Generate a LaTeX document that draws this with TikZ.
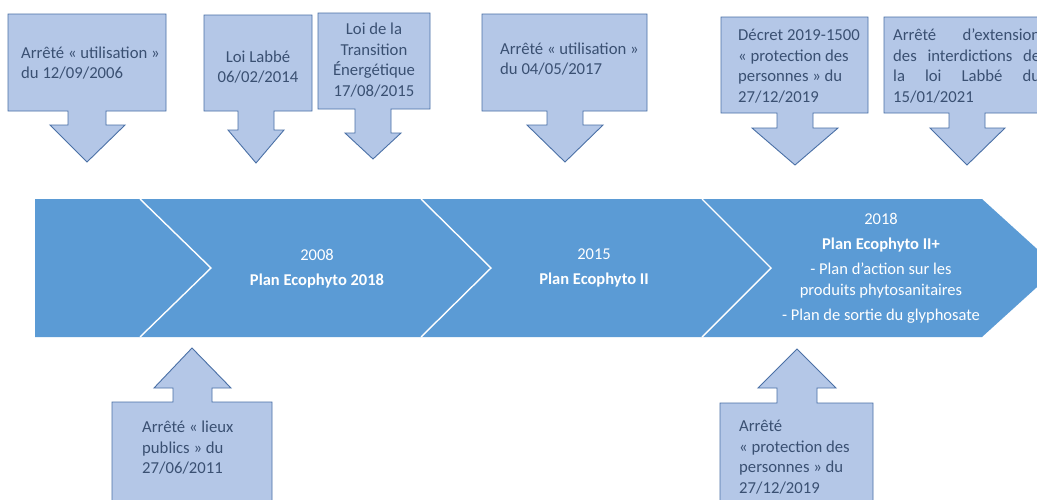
\documentclass[tikz,border=0pt]{standalone}
\usepackage{fontspec}
\setmainfont{Carlito}
\definecolor{bandblue}{HTML}{5B9BD5}
\definecolor{callfill}{HTML}{B4C7E7}
\definecolor{calldraw}{HTML}{4A70A6}
\definecolor{calltext}{HTML}{3A5072}
\tikzset{
  callout/.style={fill=callfill, draw=calldraw, line width=0.9pt, line join=miter},
  chevline/.style={draw=white, line width=1.4pt},
  ctext/.style={text=calltext, inner sep=0pt, font=\fontsize{16.7}{20.5}\selectfont},
  btext/.style={text=white, inner sep=0pt, align=center, font=\fontsize{16.5}{20.5}\selectfont},
}
\begin{document}
\begin{tikzpicture}[x=1pt,y=-1pt]
\useasboundingbox (0,0) rectangle (1037,499);
\clip (0,0) rectangle (1037,499);
\fill[white] (0,0) rectangle (1037,499);

% timeline band
\fill[bandblue] (35,199) -- (982,199) -- (1058,268) -- (982,337) -- (35,337) -- cycle;
\draw[chevline] (140,199) -- (211,268) -- (140,337);
\draw[chevline] (421,199) -- (491,268) -- (421,337);
\draw[chevline] (702,199) -- (771,268) -- (702,337);

\node[btext] (p1) at (317,268.5) {2008\\[4.5pt]\textbf{Plan Ecophyto 2018}};
\node[btext] (p2) at (594,268) {2015\\[4.5pt]\textbf{Plan Ecophyto II}};
\node[btext] (p3) at (881,268.5) {2018\\[4.5pt]\textbf{Plan Ecophyto II+}\\[4.5pt]- Plan d’action sur les\\produits phytosanitaires\\[4.5pt]- Plan de sortie du glyphosate};

% top callouts
\draw[callout] (8,14) -- (166,14) -- (166,111) -- (106,111) -- (106,125) -- (125,125) -- (87,162) -- (50,125) -- (68,125) -- (68,111) -- (8,111) -- cycle;
\node[ctext, anchor=west, align=left] (c1) at (21,63) {Arrêté « utilisation »\\du 12/09/2006};

\draw[callout] (204,15) -- (312,15) -- (312,111) -- (274,111) -- (274,130) -- (284,130) -- (256,163) -- (228,130) -- (238,130) -- (238,111) -- (204,111) -- cycle;
\node[ctext, align=center] (c2) at (258,67) {Loi Labbé\\06/02/2014};

\draw[callout] (318,13) -- (430,13) -- (430,109) -- (391,109) -- (391,133) -- (401,133) -- (373,159) -- (345,133) -- (355,133) -- (355,109) -- (318,109) -- cycle;
\node[ctext, align=center] (c3) at (374,60) {Loi de la\\Transition\\Énergétique\\17/08/2015};

\draw[callout] (482,14) -- (647,14) -- (647,111) -- (583,111) -- (583,125) -- (603,125) -- (565,162) -- (527,125) -- (547,125) -- (547,111) -- (482,111) -- cycle;
\node[ctext, anchor=west, align=left] (c4) at (500,59) {Arrêté « utilisation »\\du 04/05/2017};

\draw[callout] (721,17) -- (868,17) -- (868,113) -- (813,113) -- (813,128) -- (838,128) -- (795,165) -- (752,128) -- (777,128) -- (777,113) -- (721,113) -- cycle;
\node[ctext, anchor=west, align=left] (c5) at (738,66) {Décret 2019-1500\\« protection des\\personnes » du\\27/12/2019};

\draw[callout] (884,17) -- (1070,17) -- (1070,113) -- (985,113) -- (985,128) -- (1005,128) -- (967,165) -- (930,128) -- (949,128) -- (949,113) -- (884,113) -- cycle;
\node[ctext, anchor=west, align=left] (c6) at (893,66) {%
\hbox to 147pt{Arrêté\hfill d’extension}\\
\hbox to 147pt{des\hfill interdictions\hfill de}\\
\hbox to 147pt{la\hfill loi\hfill Labbé\hfill du}\\
15/01/2021};

% bottom callouts
\draw[callout] (192,348) -- (231,388) -- (212,388) -- (212,402) -- (272,402) -- (272,510) -- (112,510) -- (112,402) -- (173,402) -- (173,388) -- (154,388) -- cycle;
\node[ctext, anchor=west, align=left] (b1) at (142,448) {Arrêté « lieux\\publics » du\\27/06/2011};

\draw[callout] (797,349) -- (836,388) -- (817,388) -- (817,403) -- (873,403) -- (873,510) -- (720,510) -- (720,403) -- (777,403) -- (777,388) -- (758,388) -- cycle;
\node[ctext, anchor=west, align=left] (b2) at (739,457) {Arrêté\\« protection des\\personnes » du\\27/12/2019};
\end{tikzpicture}
\end{document}
